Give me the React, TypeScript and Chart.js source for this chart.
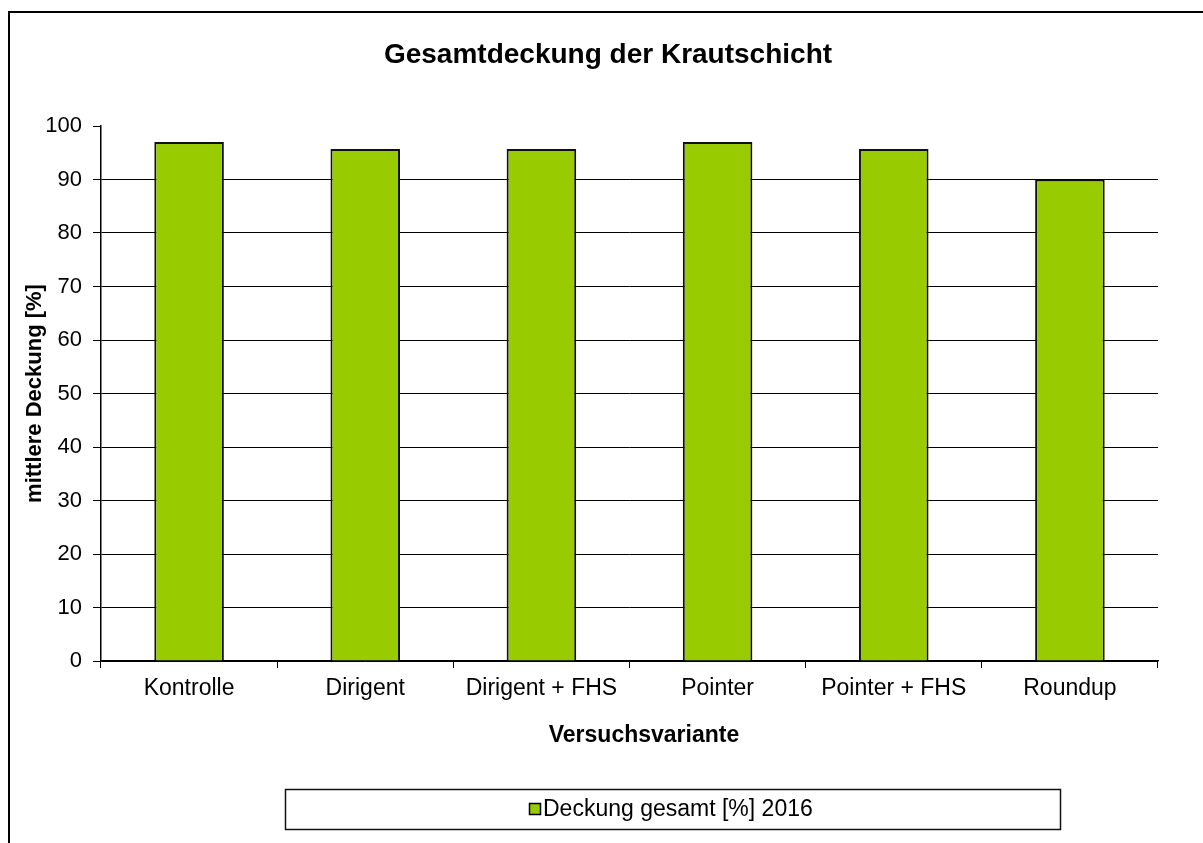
import React, { useEffect, useRef } from "react";
import { Chart, registerables } from "chart.js";

Chart.register(...registerables);

const categories = ["Kontrolle", "Dirigent", "Dirigent + FHS", "Pointer", "Pointer + FHS", "Roundup"];
const coverValues = [97, 95.7, 95.7, 97, 95.7, 90];
const seriesLabel = "Deckung gesamt [%] 2016";
const chartTitle = "Gesamtdeckung der Krautschicht";
const xTitle = "Versuchsvariante";
const yTitle = "mittlere Deckung [%]";

const FONT = '"Liberation Sans", Arial, sans-serif';
const GREEN = "#99CC00";

const decorPlugin = {
  id: "decor",
  beforeDraw(chart: any) {
    const { ctx, width, height } = chart;
    ctx.save();
    ctx.fillStyle = "#ffffff";
    ctx.fillRect(0, 0, width, height);
    ctx.restore();
  },
  afterDraw(chart: any) {
    const { ctx } = chart;
    ctx.save();
    // outer frame
    ctx.strokeStyle = "#000";
    ctx.lineWidth = 2;
    ctx.strokeRect(9, 12, 1300, 1000);
    // title
    ctx.fillStyle = "#000";
    ctx.font = `bold 28px ${FONT}`;
    ctx.textAlign = "center";
    ctx.textBaseline = "middle";
    ctx.fillText(chartTitle, 608, 55);
    // x axis title
    ctx.font = `bold 23px ${FONT}`;
    ctx.fillText(xTitle, 644, 736);
    // legend box
    ctx.lineWidth = 1.5;
    ctx.strokeStyle = "#111";
    ctx.strokeRect(285.5, 789.5, 775, 40);
    const ds = chart.data.datasets[0];
    ctx.fillStyle = ds.backgroundColor;
    ctx.fillRect(529, 803, 12, 12);
    ctx.lineWidth = 1.5;
    ctx.strokeStyle = "#000";
    ctx.strokeRect(529.5, 803.5, 11, 11);
    ctx.fillStyle = "#000";
    ctx.font = `23px ${FONT}`;
    ctx.textAlign = "left";
    ctx.textBaseline = "middle";
    ctx.fillText(ds.label, 543, 810);
    ctx.restore();
  },
};

export default function App() {
  const ref = useRef<HTMLCanvasElement>(null);

  useEffect(() => {
    if (!ref.current) return;
    const chart = new Chart(ref.current, {
      type: "bar",
      data: {
        labels: categories,
        datasets: [
          {
            label: seriesLabel,
            data: coverValues,
            backgroundColor: GREEN,
            borderColor: "#111",
            borderWidth: 2,
            categoryPercentage: 1,
            barPercentage: 0.395,
          },
        ],
      },
      options: {
        animation: false,
        responsive: true,
        maintainAspectRatio: false,
        layout: { padding: { left: 18, right: 45, top: 126, bottom: 93 } },
        plugins: {
          legend: { display: false },
          title: { display: false },
          tooltip: { enabled: false },
        },
        scales: {
          x: {
            afterFit: (s: any) => {
              s.height = 89;
            },
            border: { display: true, color: "#000", width: 1.5 },
            grid: {
              offset: true,
              drawOnChartArea: false,
              drawTicks: true,
              tickLength: 7,
              color: "#000",
              tickColor: "#000",
            },
            ticks: {
              color: "#000",
              padding: 7,
              font: { family: FONT, size: 23 },
              maxRotation: 0,
              autoSkip: false,
            },
            title: { display: false, text: xTitle },
          },
          y: {
            min: 0,
            max: 100,
            afterFit: (s: any) => {
              s.width = 83;
            },
            border: { display: true, color: "#000", width: 1.5 },
            grid: {
              color: (c: any) => (c.tick && c.tick.value === 100 ? "rgba(0,0,0,0)" : "#000"),
              tickColor: "#000",
              lineWidth: 1,
              drawTicks: true,
              tickLength: 8,
            },
            ticks: {
              stepSize: 10,
              color: "#000",
              padding: 11,
              font: { family: FONT, size: 22 },
            },
            title: {
              display: true,
              text: yTitle,
              color: "#000",
              padding: { top: 4, bottom: 0 },
              font: { family: FONT, size: 22, weight: "bold" },
            },
          },
        },
      },
      plugins: [decorPlugin],
    });
    return () => chart.destroy();
  }, []);

  return (
    <div style={{ position: "fixed", left: 0, top: 0, width: 1203, height: 843, background: "#fff" }}>
      <canvas ref={ref} />
    </div>
  );
}
